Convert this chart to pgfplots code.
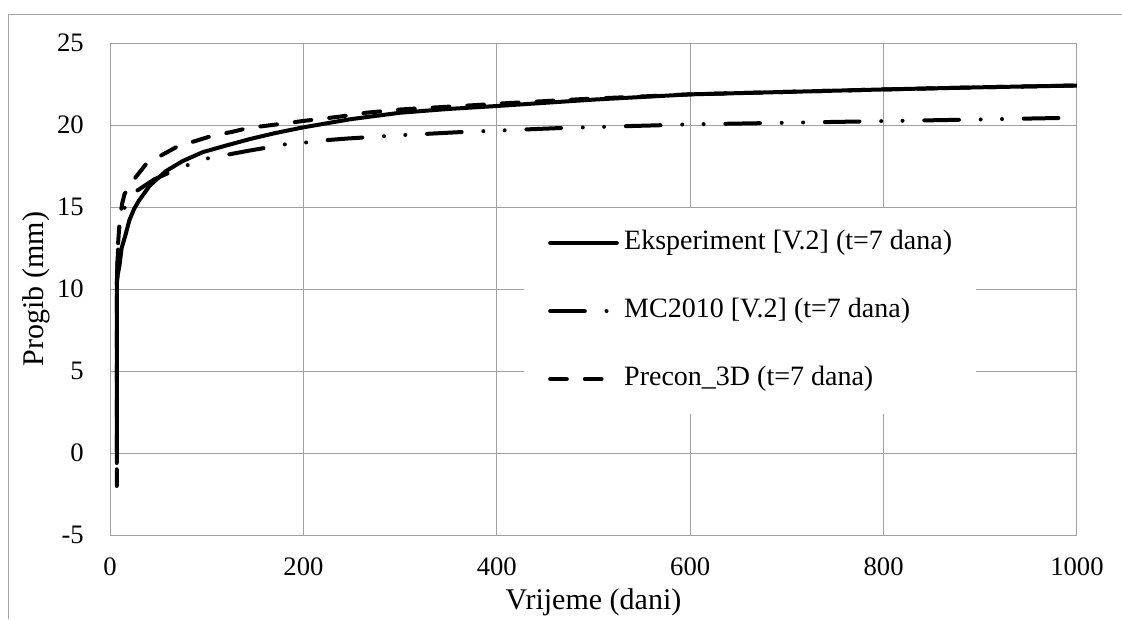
\documentclass[border=0pt]{standalone}
\usepackage{fontspec}
\setmainfont{Liberation Serif}
\usepackage{pgfplots}
\pgfplotsset{compat=1.18}
\usetikzlibrary{calc}
\definecolor{gridgray}{HTML}{A0A0A0}
\definecolor{framegray}{HTML}{A6A6A6}
\begin{document}
\begin{tikzpicture}
\begin{axis}[
  name=ax,
  scale only axis,
  width=725pt, height=369pt,
  xmin=0, xmax=1000, ymin=-5, ymax=25,
  xtick={0,200,400,600,800,1000},
  ytick={-5,0,5,10,15,20,25},
  grid=major,
  major grid style={gridgray, line width=0.75pt},
  axis line style={gridgray, line width=0.75pt},
  tick style={draw=none},
  /pgf/number format/assume math mode=true,
  /pgf/number format/.cd, 1000 sep={}, /pgfplots/.cd,
  x tick label style={font=\fontsize{20}{24}\selectfont, anchor=north, inner sep=0pt, yshift=-16.5pt},
  y tick label style={font=\fontsize{20}{24}\selectfont, anchor=east, inner sep=0pt, xshift=-19.5pt},
  xlabel={Vrijeme (dani)},
  ylabel={Progib (mm)},
  every axis x label/.style={at={(axis description cs:0.5,0)}, anchor=center, yshift=-50pt, font=\fontsize{22.5}{26}\selectfont},
  every axis y label/.style={at={(axis description cs:0,0.5)}, xshift=-55pt, rotate=90, anchor=center, font=\fontsize{22.5}{26}\selectfont},
  legend cell align=left,
  legend image code/.code={\draw[#1] (0pt,0pt) -- (50pt,0pt);},
  legend style={at={(0.428,0.6646)}, anchor=north west, draw=none, fill=white,
    inner xsep=18pt, inner ysep=17pt, row sep=33pt, column sep=4pt,
    nodes={inner sep=0pt, text height=14pt, text depth=4pt, anchor=west},
    font=\fontsize{21}{25}\selectfont},
]
\addplot[black, line width=3pt, line cap=round, line join=round] coordinates {
(7,-0.6) (7,10.3) (8,10.9) (9.7,11.4) (12,12.5) (16,13.3) (20,14.2) (25,14.9) (30,15.4)
(41,16.3) (58,17.2) (75,17.8) (96,18.35) (120,18.75) (145,19.15) (170,19.5) (200,19.86)
(248,20.35) (300,20.75) (350,20.98) (400,21.16) (500,21.55) (600,21.87) (700,22.02)
(800,22.17) (900,22.3) (1000,22.41)
};
\addlegendentry{Eksperiment [V.2] (t=7 dana)}
\addplot[black, line width=3pt, line cap=round, line join=round,
  dash pattern=on 26pt off 16.3pt on 0pt off 16pt on 0pt off 16.3pt] coordinates {
(7,10.3) (8,12.0) (9.5,13.6) (11.5,14.7) (17,15.1) (28,16.0) (46,16.7) (65,17.2) (82,17.6)
(101,17.97) (122,18.2) (143,18.43) (183,18.84) (203,18.94) (224,19.08) (246,19.18)
(265,19.25) (300,19.38) (366,19.58) (400,19.66) (467,19.82) (600,20.04) (700,20.14)
(800,20.24) (900,20.34) (1000,20.45)
};
\addlegendentry{MC2010 [V.2] (t=7 dana)}
\addplot[black, line width=3pt, line cap=round, line join=round,
  dash pattern=on 12.5pt off 13.5pt] coordinates {
(7,-2) (7,10) (8,12.5) (10,14.2) (12.5,15.2) (15,15.8) (25,16.7) (37,17.6) (53,18.15)
(70,18.7) (89,19.04) (106,19.35) (126,19.58) (143,19.82) (162,19.96) (181,20.1)
(200,20.25) (236,20.5) (265,20.75) (301,20.95) (379,21.22) (400,21.3) (488,21.58)
(600,21.87) (700,22.02) (800,22.17) (900,22.3) (1000,22.41)
};
\addlegendentry{Precon\_3D (t=7 dana)}
\end{axis}
\path[use as bounding box] ($(ax.south west)+(-82.5pt,-63pt)$) rectangle ($(ax.north east)+(33.75pt,32.25pt)$);
\draw[framegray, line width=0.75pt] ($(ax.south west)+(-76.5pt,-63pt)$) -- ($(ax.north west)+(-76.5pt,21.75pt)$) -- ($(ax.north east)+(33.75pt,21.75pt)$);
\end{tikzpicture}
\end{document}
